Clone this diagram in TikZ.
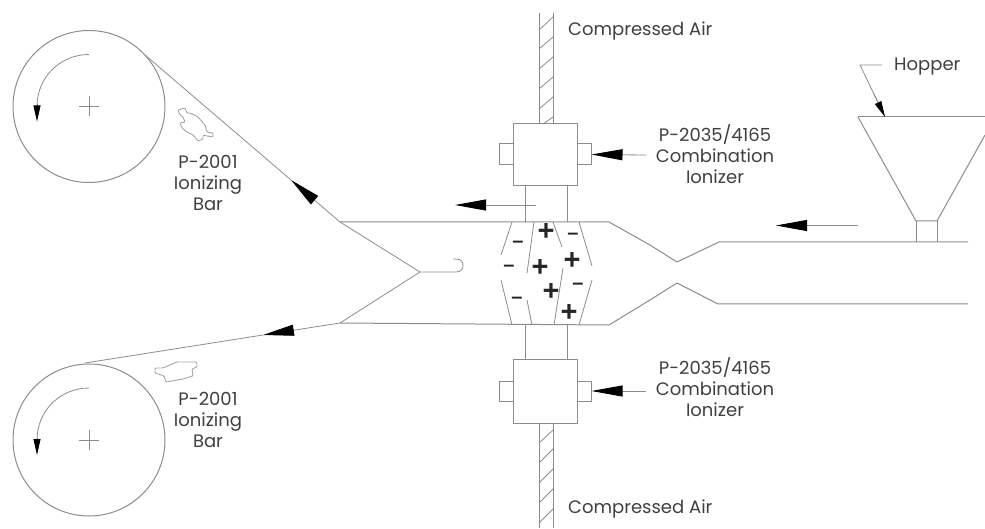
\documentclass[tikz,border=0pt]{standalone}
\usepackage{fontspec}
\setmainfont{Poppins}
\newfontfamily\signfont{Liberation Sans}
\usetikzlibrary{arrows.meta,calc}
\definecolor{linegray}{gray}{0.55}
\definecolor{bargray}{gray}{0.65}
\definecolor{textgray}{gray}{0.25}
\tikzset{
  wall/.style={draw=linegray,line width=1pt,line join=round},
  thin wall/.style={draw=linegray,line width=0.8pt,line join=round},
  bar outline/.style={draw=bargray,line width=0.9pt,line join=round,rounded corners=1pt},
  flowarrow/.style={draw=linegray,line width=0.8pt,-{Triangle[length=31pt,width=11pt,color=black]}},
  smallarrow/.style={draw=linegray,line width=0.8pt,-{Triangle[length=16pt,width=7pt,color=black]}},
  caption/.style={font=\fontsize{18}{21}\selectfont,text=textgray,align=center,inner sep=0pt},
  plussign/.style={font=\signfont\bfseries\fontsize{29}{29}\selectfont,text=black!85,inner sep=0pt},
  minussign/.style={font=\signfont\bfseries\fontsize{20}{20}\selectfont,text=black!85,inner sep=0pt},
}
\begin{document}
\begin{tikzpicture}[x=1pt,y=-1pt]
\useasboundingbox (0,0) rectangle (985,529);
% rolls
\coordinate (roll1) at (89,106.5);
\coordinate (roll2) at (89,440);
\foreach \r in {roll1,roll2}{
  \draw[wall] (\r) circle[radius=76];
  \draw[thin wall] ($(\r)+(-10,0)$) -- ($(\r)+(10,0)$);
  \draw[thin wall] ($(\r)+(0,-10)$) -- ($(\r)+(0,10)$);
  \draw[thin wall] ($(\r)+(0,-52)$) .. controls ($(\r)+(-29,-52)$) and ($(\r)+(-52,-29)$) .. ($(\r)+(-52,0)$);
  \draw[smallarrow] ($(\r)+(-52,-2)$) -- ($(\r)+(-52,15)$);
}
% web
\coordinate (w1a) at (145,55);
\coordinate (w1b) at (291,180);
\coordinate (w1c) at (340,222);
\coordinate (w2a) at (85,363);
\coordinate (w2b) at (263,335);
\coordinate (w2c) at (340,323);
\coordinate (fork) at (420,272);
\draw[thin wall] (w1a) -- (w1b);
\draw[flowarrow] (w1c) -- (w1b);
\draw[thin wall] (w2a) -- (w2b);
\draw[flowarrow] (w2c) -- (w2b);
\draw[thin wall] (w1c) -- (fork) -- (w2c);
\draw[thin wall] (fork) -- (456,272) .. controls (461,272) and (463,269) .. (463,265.5) .. controls (463,262) and (461,259) .. (456,259) -- (453,259);
% die walls
\draw[wall] (w1c) -- (609,222) -- (650,245) -- (677,262) -- (719,242) -- (968,242);
\draw[wall] (w2c) -- (609,325) -- (650,300) -- (677,283) -- (718,304) -- (968,304);
% dividers
\draw[thin wall] (512,222) -- (501,255);
\draw[thin wall] (501,280) -- (512,325);
\draw[thin wall] (534,222) -- (527,273);
\draw[thin wall] (527,300) -- (532,325);
\draw[thin wall] (553,222) -- (562,247);
\draw[thin wall] (563,268) -- (554,325);
\draw[thin wall] (579,222) -- (592,266);
\draw[thin wall] (592,280) -- (579,325);
% charges
\node[plussign] (p1) at (546,231.5) {+};
\node[plussign] (p2) at (540,268) {+};
\node[plussign] (p3) at (572,260.5) {+};
\node[plussign] (p4) at (551,291.5) {+};
\node[plussign] (p5) at (569,313) {+};
\node[minussign] (m1) at (518,244.5) {–};
\node[minussign] (m2) at (509,268.5) {–};
\node[minussign] (m3) at (517,300.5) {–};
\node[minussign] (m4) at (573,236.5) {–};
\node[minussign] (m5) at (578,286.5) {–};
% pipes
\draw[wall] (525,186) -- (525,222) (567,186) -- (567,222);
\draw[wall] (525,325) -- (525,359) (567,325) -- (567,359);
% ionizers
\node[wall,minimum width=14pt,minimum height=21pt,inner sep=0pt] (tabTL) at (506.5,154.5) {};
\node[wall,minimum width=14pt,minimum height=21pt,inner sep=0pt] (tabTR) at (584,154.5) {};
\node[wall,fill=white,minimum width=64pt,minimum height=62pt,inner sep=0pt] (boxT) at (545,155) {};
\node[wall,minimum width=14pt,minimum height=20pt,inner sep=0pt] (tabBL) at (506.5,391) {};
\node[wall,minimum width=14pt,minimum height=20pt,inner sep=0pt] (tabBR) at (584,391) {};
\node[wall,fill=white,minimum width=64pt,minimum height=64pt,inner sep=0pt] (boxB) at (545,391) {};
% hatched air lines
\draw[wall] (539,13) -- (539,124) (553,13) -- (553,124);
\foreach \a/\b in {30/17,49/37,69/57,89/77,109/97}{\draw[thin wall] (539,\a) -- (553,\b);}
\draw[thin wall] (543,124) -- (553,117);
\draw[wall] (539,423) -- (539,528) (553,423) -- (553,528);
\foreach \a/\b in {443/430,463/449,483/469,503/489,523/509}{\draw[thin wall] (539,\a) -- (553,\b);}
% hopper
\draw[wall] (858,117) -- (985,117);
\draw[wall] (858,117) -- (916,221) -- (937,221) -- (985,135);
\draw[wall] (916,221) -- (916,242) (937,221) -- (937,242);
% captions
\node[caption,anchor=west] (air1) at (568,31) {Compressed Air};
\node[caption,anchor=west] (air2) at (568,508.5) {Compressed Air};
\node[caption] (bar1) at (208,183) {P-2001\\Ionizing\\Bar};
\node[caption] (bar2) at (208,420) {P-2001\\Ionizing\\Bar};
\node[caption] (ion1) at (715,154) {P-2035/4165\\Combination\\Ionizer};
\node[caption] (ion2) at (715,387.5) {P-2035/4165\\Combination\\Ionizer};
\node[caption,anchor=west] (hop) at (894,66.5) {Hopper};
% leaders and flow arrows
\coordinate (ion1s) at (646,155);
\coordinate (ion2s) at (646,391);
\draw[flowarrow] (ion1s) -- (tabTR.east);
\draw[flowarrow] (ion2s) -- (tabBR.east);
\coordinate (f1s) at (536,205);
\coordinate (f1e) at (455,205);
\coordinate (f2s) at (858,225.5);
\coordinate (f2e) at (776,225.5);
\draw[flowarrow] (f1s) -- (f1e);
\draw[flowarrow] (f2s) -- (f2e);
\coordinate (h1) at (882,65);
\coordinate (h2) at (860,65);
\coordinate (h3) at (885,117);
\draw[thin wall] (h1) -- (h2) -- (h3);
\draw[smallarrow] ($(h2)!0.55!(h3)$) -- (h3);
% ionizing bars
\draw[bar outline] (178,110) -- (185,108) -- (187,113) -- (190,113) -- (198,117) -- (205,125) -- (207,132) -- (213,133) -- (213,137) -- (207,136) -- (203,135) -- (203,139) -- (198,141) -- (193,135) -- (187,132) -- (182,128) -- (180,123) -- (185,122) -- (183,117) -- (180,115) -- cycle;
\draw[bar outline] (155,368) -- (163,368) -- (170,365) -- (177,362) -- (190,362) -- (197,362) -- (197,367) -- (192,369) -- (193,376) -- (183,379) -- (172,381) -- (166,382) -- (164,376) -- (155,373) -- cycle;
\end{tikzpicture}
\end{document}
